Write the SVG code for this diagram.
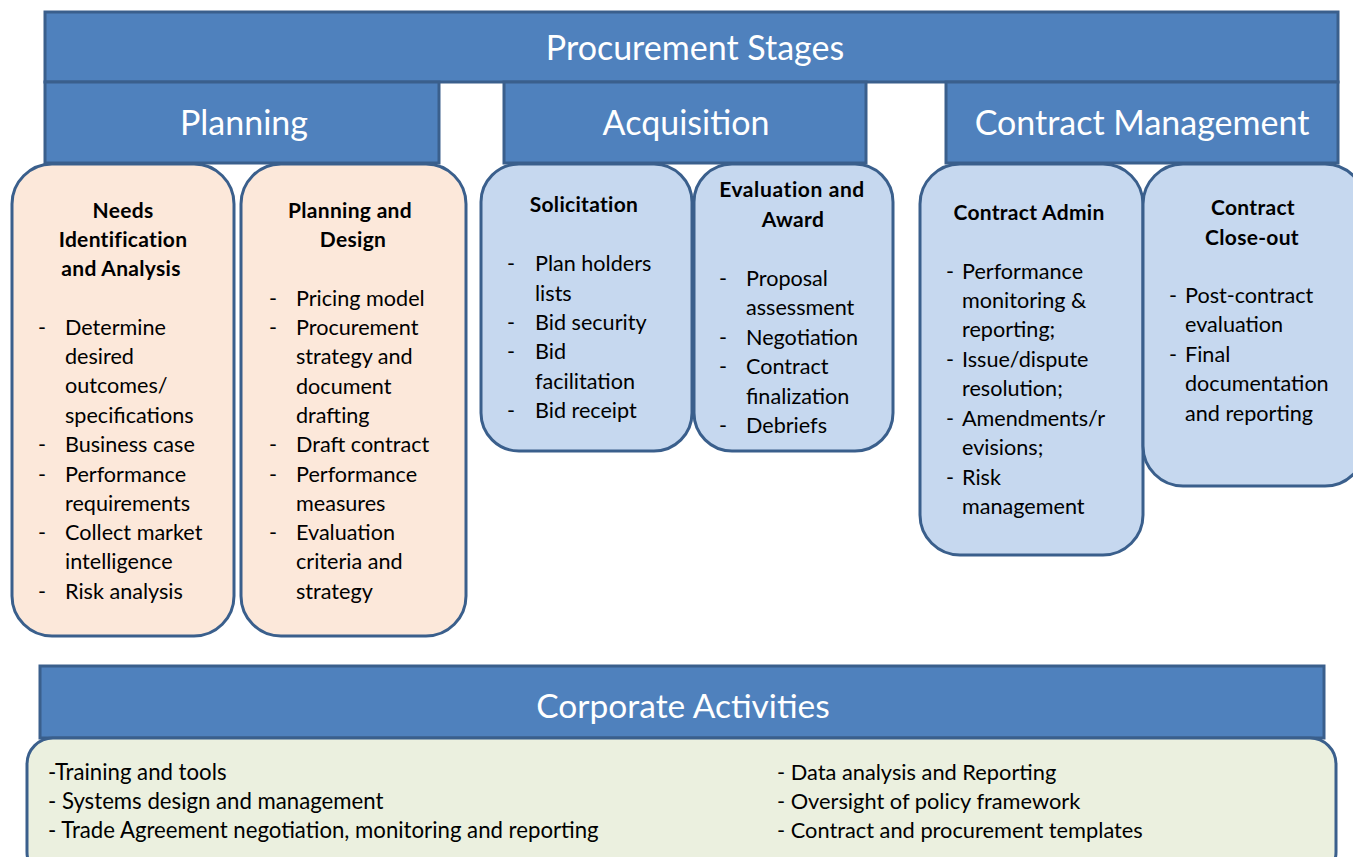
<svg xmlns="http://www.w3.org/2000/svg" width="1353" height="857" viewBox="0 0 1353 857">
  <style>
    .hdr { fill: #4F81BD; stroke: #3A5F8C; stroke-width: 3; }
    .hdrText { fill: #FFFFFF; font-family: Lato, "Liberation Sans", sans-serif; font-size: 34px; text-anchor: middle; }
    .peach { fill: #FCE8DA; stroke: #3A5F8C; stroke-width: 3; }
    .blue { fill: #C6D8EF; stroke: #3A5F8C; stroke-width: 3; }
    .green { fill: #EBF0DF; stroke: #3A5F8C; stroke-width: 3; }
    .title { fill: #000000; font-family: Lato, "Liberation Sans", sans-serif; font-size: 21px; font-weight: bold; letter-spacing: 0.3px; text-anchor: middle; }
    .item { fill: #000000; font-family: Lato, "Liberation Sans", sans-serif; font-size: 21.6px; }
    .corp { fill: #000000; font-family: Lato, "Liberation Sans", sans-serif; font-size: 21.8px; }
    .corpLeft { font-size: 22.2px; }
  </style>

  <!-- Stage headers -->
  <g id="procurement-stages">
    <rect class="hdr" x="45" y="12" width="1293" height="70"/>
    <text class="hdrText" x="695" y="60">Procurement Stages</text>
  </g>
  <g id="planning-header">
    <rect class="hdr" x="45" y="82" width="394" height="81"/>
    <text class="hdrText" x="244" y="135">Planning</text>
  </g>
  <g id="acquisition-header">
    <rect class="hdr" x="504" y="82" width="362" height="81"/>
    <text class="hdrText" x="686" y="135">Acquisition</text>
  </g>
  <g id="contract-management-header">
    <rect class="hdr" x="946" y="82" width="392" height="81"/>
    <text class="hdrText" x="1142" y="135">Contract Management</text>
  </g>

  <!-- Planning activities -->
  <g id="needs-identification">
    <rect class="peach" x="12" y="164" width="222" height="472" rx="40"/>
    <text class="title" x="123" y="218">Needs</text>
    <text class="title" x="123" y="247">Identification</text>
    <text class="title" x="121" y="276">and Analysis</text>
    <g class="item">
      <text x="38" y="335">-</text><text x="65" y="335">Determine</text>
      <text x="65" y="364">desired</text>
      <text x="65" y="393">outcomes/</text>
      <text x="65" y="423">specifications</text>
      <text x="38" y="452">-</text><text x="65" y="452">Business case</text>
      <text x="38" y="482">-</text><text x="65" y="482">Performance</text>
      <text x="65" y="511">requirements</text>
      <text x="38" y="540">-</text><text x="65" y="540">Collect market</text>
      <text x="65" y="569">intelligence</text>
      <text x="38" y="599">-</text><text x="65" y="599">Risk analysis</text>
    </g>
  </g>
  <g id="planning-design">
    <rect class="peach" x="241" y="164" width="225" height="472" rx="40"/>
    <text class="title" x="350" y="218">Planning and</text>
    <text class="title" x="353" y="247">Design</text>
    <g class="item">
      <text x="269" y="306">-</text><text x="296" y="306">Pricing model</text>
      <text x="269" y="335">-</text><text x="296" y="335">Procurement</text>
      <text x="296" y="364">strategy and</text>
      <text x="296" y="394">document</text>
      <text x="296" y="423">drafting</text>
      <text x="269" y="452">-</text><text x="296" y="452">Draft contract</text>
      <text x="269" y="482">-</text><text x="296" y="482">Performance</text>
      <text x="296" y="511">measures</text>
      <text x="269" y="540">-</text><text x="296" y="540">Evaluation</text>
      <text x="296" y="569">criteria and</text>
      <text x="296" y="599">strategy</text>
    </g>
  </g>

  <!-- Acquisition activities -->
  <g id="solicitation">
    <rect class="blue" x="481" y="164" width="211" height="287" rx="38"/>
    <text class="title" x="584" y="212">Solicitation</text>
    <g class="item">
      <text x="507" y="271">-</text><text x="535" y="271">Plan holders</text>
      <text x="535" y="301">lists</text>
      <text x="507" y="330">-</text><text x="535" y="330">Bid security</text>
      <text x="507" y="359">-</text><text x="535" y="359">Bid</text>
      <text x="535" y="389">facilitation</text>
      <text x="507" y="418">-</text><text x="535" y="418">Bid receipt</text>
    </g>
  </g>
  <g id="evaluation-award">
    <rect class="blue" x="694" y="164" width="199" height="287" rx="38"/>
    <text class="title" x="792" y="197" style="letter-spacing:0.6px">Evaluation and</text>
    <text class="title" x="793" y="227">Award</text>
    <g class="item">
      <text x="719" y="286">-</text><text x="746" y="286">Proposal</text>
      <text x="746" y="315">assessment</text>
      <text x="719" y="345">-</text><text x="746" y="345">Negotiation</text>
      <text x="719" y="374">-</text><text x="746" y="374">Contract</text>
      <text x="746" y="404">finalization</text>
      <text x="719" y="433">-</text><text x="746" y="433">Debriefs</text>
    </g>
  </g>

  <!-- Contract management activities -->
  <g id="contract-admin">
    <rect class="blue" x="920" y="164" width="223" height="391" rx="40"/>
    <text class="title" x="1029" y="220">Contract Admin</text>
    <g class="item">
      <text x="946" y="279">-</text><text x="962" y="279">Performance</text>
      <text x="962" y="308">monitoring &amp;</text>
      <text x="962" y="337">reporting;</text>
      <text x="946" y="367">-</text><text x="962" y="367">Issue/dispute</text>
      <text x="962" y="396">resolution;</text>
      <text x="946" y="426">-</text><text x="962" y="426">Amendments/r</text>
      <text x="962" y="455">evisions;</text>
      <text x="946" y="485">-</text><text x="962" y="485">Risk</text>
      <text x="962" y="514">management</text>
    </g>
  </g>
  <g id="contract-closeout">
    <rect class="blue" x="1143" y="164" width="222" height="322" rx="40"/>
    <text class="title" x="1253" y="215">Contract</text>
    <text class="title" x="1252" y="245">Close-out</text>
    <g class="item">
      <text x="1169" y="303">-</text><text x="1185" y="303">Post-contract</text>
      <text x="1185" y="332">evaluation</text>
      <text x="1169" y="362">-</text><text x="1185" y="362">Final</text>
      <text x="1185" y="391">documentation</text>
      <text x="1185" y="421">and reporting</text>
    </g>
  </g>

  <!-- Corporate activities band -->
  <g id="corporate-activities">
    <rect class="hdr" x="40" y="666" width="1284" height="72"/>
    <text class="hdrText" x="683" y="718" style="font-size:33.5px">Corporate Activities</text>
  </g>
  <g id="corporate-list">
    <rect class="green" x="27" y="738" width="1309" height="140" rx="26"/>
    <g class="corp">
      <text class="corpLeft" x="48" y="780">-Training and tools</text>
      <text class="corpLeft" x="48" y="809">- Systems design and management</text>
      <text class="corpLeft" x="48" y="838">- Trade Agreement negotiation, monitoring and reporting</text>
      <text x="777" y="780">- Data analysis and Reporting</text>
      <text x="777" y="809">- Oversight of policy framework</text>
      <text x="777" y="838">- Contract and procurement templates</text>
    </g>
  </g>

  <!-- No connectors in this layout -->
  <g id="connectors"/>
</svg>
